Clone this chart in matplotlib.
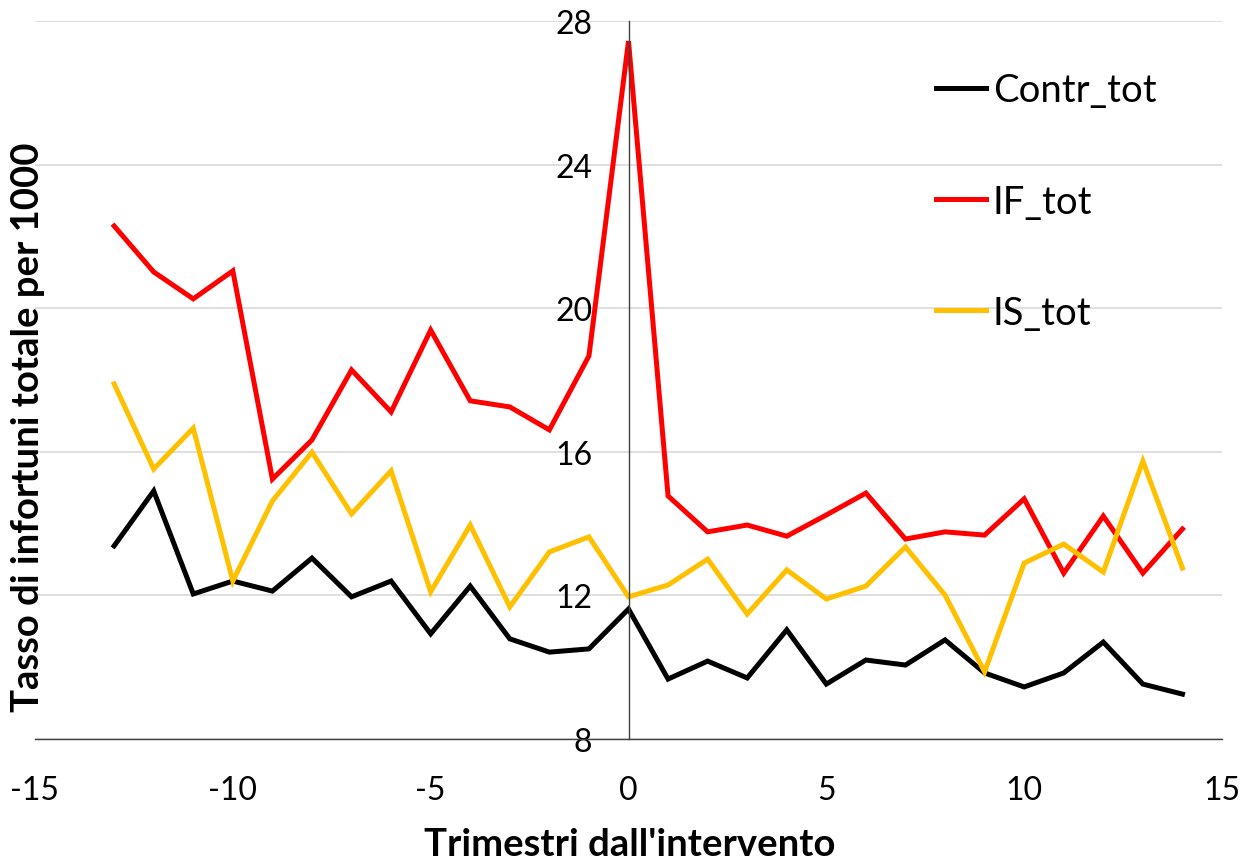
import matplotlib
matplotlib.use("Agg")
import matplotlib.pyplot as plt

quarters = list(range(-13, 15))
contr_tot = [13.38, 14.91, 12.04, 12.40, 12.12, 13.04, 11.96, 12.40, 10.93, 12.26,
             10.79, 10.42, 10.51, 11.62, 9.67, 10.17, 9.70, 11.04, 9.53, 10.20,
             10.06, 10.76, 9.84, 9.45, 9.84, 10.70, 9.53, 9.25]
if_tot = [22.29, 21.01, 20.26, 21.04, 15.24, 16.33, 18.28, 17.11, 19.39, 17.42,
          17.25, 16.61, 18.67, 27.44, 14.77, 13.77, 13.96, 13.65, 14.24, 14.85,
          13.57, 13.77, 13.68, 14.69, 12.62, 14.21, 12.62, 13.85]
is_tot = [17.89, 15.52, 16.66, 12.40, 14.63, 15.99, 14.27, 15.47, 12.10, 13.96,
          11.68, 13.21, 13.63, 11.96, 12.29, 13.01, 11.48, 12.71, 11.90, 12.26,
          13.35, 12.01, 9.87, 12.90, 13.43, 12.65, 15.74, 12.76]
series_names = ["Contr_tot", "IF_tot", "IS_tot"]
series_colors = ["#000000", "#FF0000", "#FFC000"]
x_ticks = [-15, -10, -5, 0, 5, 10, 15]
y_ticks = [8, 12, 16, 20, 24, 28]

plt.rcParams['font.family'] = ['Lato', 'DejaVu Sans']
plt.rcParams['axes.unicode_minus'] = False

fig = plt.figure(figsize=(12.49, 8.62), dpi=100)
ax = fig.add_axes([35/1249, 1-740/862, (1222-35)/1249, (740-22)/862])

for vals, name, col in zip([contr_tot, if_tot, is_tot], series_names, series_colors):
    ax.plot(quarters, vals, color=col, lw=3.6, label=name, solid_joinstyle='miter')

ax.set_xlim(-15, 15)
ax.set_ylim(8, 28)
ax.set_xticks(x_ticks)
ax.set_yticks(y_ticks)
ax.grid(axis='y', color='#D9D9D9', lw=1.2)
ax.set_axisbelow(True)

ax.spines['left'].set_position(('data', 0))
ax.spines['left'].set_color('#404040')
ax.spines['left'].set_linewidth(1.0)
ax.spines['bottom'].set_color('#404040')
ax.spines['bottom'].set_linewidth(1.0)
ax.spines['top'].set_visible(False)
ax.spines['right'].set_visible(False)
ax.tick_params(axis='both', length=0, labelsize=23, colors='#000000')
ax.tick_params(axis='y', pad=26)
ax.tick_params(axis='x', pad=26)

fig.text(630/1249, 1-845/862, "Trimestri dall'intervento", ha='center', va='center',
         fontsize=27.5, fontweight='bold')
fig.text(28/1249, 1-427/862, "Tasso di infortuni totale per 1000", ha='center', va='center',
         rotation=90, fontsize=27.5, fontweight='bold')

leg = ax.legend(loc='upper left', bbox_to_anchor=(902/1249, 1-39/862), bbox_transform=fig.transFigure,
                frameon=False, fontsize=27.5, handlelength=1.3, handletextpad=0.18,
                labelspacing=1.97)

fig.savefig("out.png", dpi=100)
